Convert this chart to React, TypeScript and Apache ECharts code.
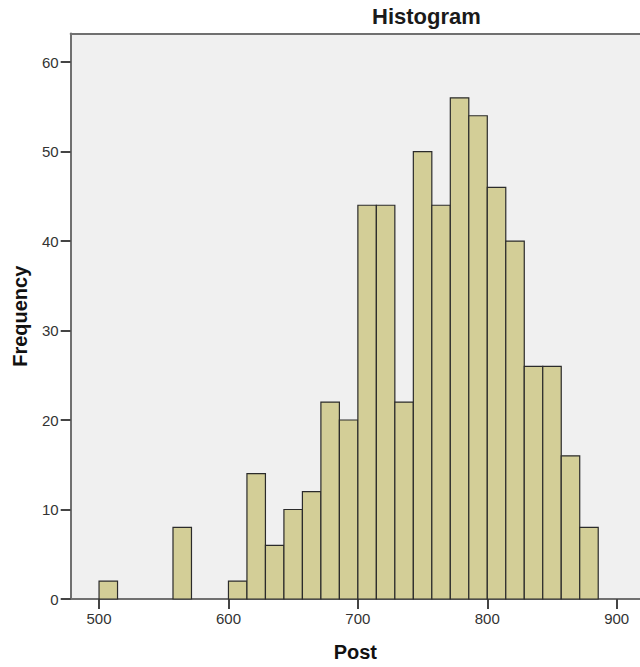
import React, { useEffect, useRef } from "react";
import * as echarts from "echarts";

// Histogram of "Post": bins start at 500, each 100/7 wide (7 bins per 100)
const binStart = 500;
const binWidth = 100 / 7;
const counts = [2, 0, 0, 0, 8, 0, 0, 2, 14, 6, 10, 12, 22, 20, 44, 44, 22, 50, 44, 56, 54, 46, 40, 26, 26, 16, 8];
const xTickValues = [500, 600, 700, 800, 900];
const yTickValues = [0, 10, 20, 30, 40, 50, 60];
const titleText = "Histogram";
const xName = "Post";
const yName = "Frequency";

const FONT = "'Liberation Sans', Arial, Helvetica, sans-serif";
const X_MIN = 478.1;
const X_MAX = 918.0;

export default function App() {
  const ref = useRef<HTMLDivElement>(null);
  useEffect(() => {
    document.body.style.margin = "0";
    if (!ref.current) return;
    const chart = echarts.init(ref.current, undefined, { renderer: "svg" });
    const data = counts.map((c, i) => [binStart + i * binWidth, binStart + (i + 1) * binWidth, c]);
    chart.setOption({
      animation: false,
      backgroundColor: "#ffffff",
      textStyle: { fontFamily: FONT },
      graphic: [
        {
          type: "text",
          left: 372,
          top: 5,
          style: {
            text: titleText,
            fontFamily: FONT,
            fontSize: 22,
            fontWeight: "bold",
            fill: "#1a1a1a",
          },
        },
      ],
      grid: {
        left: 70.7,
        right: 0,
        top: 33.5,
        bottom: 62.7,
        show: true,
        backgroundColor: "#F0F0F0",
        borderWidth: 0,
      },
      xAxis: [
        {
          type: "value",
          min: X_MIN,
          max: X_MAX,
          name: xName,
          nameLocation: "middle",
          nameGap: 43,
          nameTextStyle: { fontFamily: FONT, fontSize: 20, fontWeight: "bold", color: "#111" },
          splitLine: { show: false },
          axisLine: { show: true, lineStyle: { color: "#707070", width: 2 } },
          axisTick: { show: true, length: 10, customValues: xTickValues, lineStyle: { color: "#444", width: 2 } },
          axisLabel: { customValues: xTickValues, margin: 12, fontFamily: FONT, fontSize: 15, color: "#333" },
        },
        {
          type: "value",
          position: "top",
          min: X_MIN,
          max: X_MAX,
          splitLine: { show: false },
          axisLine: { show: true, lineStyle: { color: "#707070", width: 2 } },
          axisTick: { show: false },
          axisLabel: { show: false },
        },
      ],
      yAxis: {
        type: "value",
        min: 0,
        max: 63.19,
        name: yName,
        nameLocation: "middle",
        nameGap: 41,
        nameTextStyle: { fontFamily: FONT, fontSize: 20, fontWeight: "bold", color: "#111" },
        splitLine: { show: false },
        axisLine: { show: true, lineStyle: { color: "#707070", width: 2 } },
        axisTick: { show: true, length: 10, customValues: yTickValues, lineStyle: { color: "#444", width: 2 } },
        axisLabel: { customValues: yTickValues, margin: 12, fontFamily: FONT, fontSize: 15, color: "#333" },
      },
      series: [
        {
          type: "custom",
          xAxisIndex: 0,
          data,
          encode: { x: [0, 1], y: 2 },
          renderItem: (params: any, api: any) => {
            const h = api.value(2);
            if (!h) return null;
            const p0 = api.coord([api.value(0), 0]);
            const p1 = api.coord([api.value(1), h]);
            return {
              type: "rect",
              shape: { x: p0[0], y: p1[1], width: p1[0] - p0[0], height: p0[1] - p1[1] },
              style: { fill: "#D3CE97", stroke: "#2b2b2b", lineWidth: 1.2 },
            };
          },
        },
      ],
    });
    return () => chart.dispose();
  }, []);
  return <div ref={ref} style={{ width: 640, height: 667 }} />;
}
